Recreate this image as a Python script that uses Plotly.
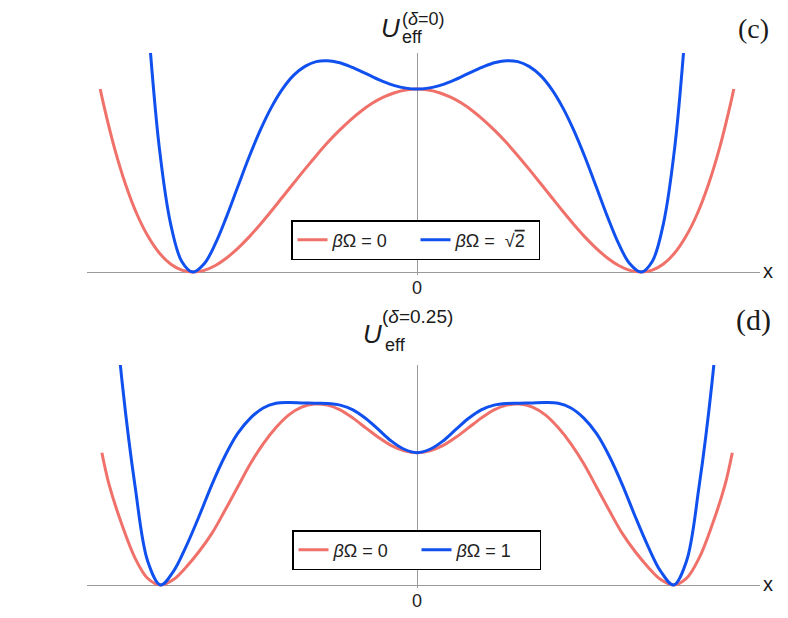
import plotly.graph_objects as go
from plotly.subplots import make_subplots

# -----------------------------
# Data (x in well units, U scaled to barrier height)
# -----------------------------
# panel (c), delta = 0
xc_red = [-1.414, -1.4, -1.35, -1.3, -1.25, -1.2, -1.15, -1.1, -1.05, -1.0, -0.95, -0.9, -0.85, -0.8, -0.75,
          -0.7, -0.65, -0.6, -0.55, -0.5, -0.45, -0.4, -0.35, -0.3, -0.25, -0.2, -0.15, -0.1, -0.05, 0.0,
          0.05, 0.1, 0.15, 0.2, 0.25, 0.3, 0.35, 0.4, 0.45, 0.5, 0.55, 0.6, 0.65, 0.7, 0.75, 0.8, 0.85, 0.9,
          0.95, 1.0, 1.05, 1.1, 1.15, 1.2, 1.25, 1.3, 1.35, 1.4, 1.414]
uc_red = [1.0, 0.922, 0.676, 0.476, 0.316, 0.194, 0.104, 0.044, 0.0105, 0.0, 0.0095, 0.036, 0.077, 0.13, 0.191,
          0.26, 0.3335, 0.41, 0.4865, 0.5625, 0.636, 0.706, 0.77, 0.828, 0.879, 0.922, 0.9555, 0.98, 0.995, 1.0,
          0.995, 0.98, 0.9555, 0.922, 0.879, 0.828, 0.77, 0.706, 0.636, 0.5625, 0.4865, 0.41, 0.3335, 0.26, 0.191,
          0.13, 0.077, 0.036, 0.0095, 0.0, 0.0105, 0.044, 0.104, 0.194, 0.316, 0.476, 0.676, 0.922, 1.0]

xc_blue = [-1.2, -1.15, -1.1, -1.05, -1.0, -0.95, -0.9, -0.85, -0.8, -0.75, -0.7, -0.65, -0.6, -0.55, -0.5,
           -0.45, -0.4, -0.35, -0.3, -0.25, -0.2, -0.15, -0.1, -0.05, 0.0, 0.05, 0.1, 0.15, 0.2, 0.25, 0.3, 0.35,
           0.4, 0.45, 0.5, 0.55, 0.6, 0.65, 0.7, 0.75, 0.8, 0.85, 0.9, 0.95, 1.0, 1.05, 1.1, 1.15, 1.2]
uc_blue = [1.36, 0.677, 0.265, 0.058, 0.0, 0.045, 0.155, 0.303, 0.466, 0.627, 0.774, 0.9, 1.001, 1.076, 1.124,
           1.15, 1.155, 1.145, 1.124, 1.097, 1.068, 1.041, 1.019, 1.005, 1.0, 1.005, 1.019, 1.041, 1.068, 1.097,
           1.124, 1.145, 1.155, 1.15, 1.124, 1.076, 1.001, 0.9, 0.774, 0.627, 0.466, 0.303, 0.155, 0.045, 0.0,
           0.058, 0.265, 0.677, 1.36]

# panel (d), delta = 0.25
xd_red = [-1.229, -1.2, -1.15, -1.1, -1.05, -1.0, -0.95, -0.9, -0.85, -0.8, -0.75, -0.7, -0.65, -0.6, -0.55,
          -0.5, -0.45, -0.4, -0.35, -0.3, -0.25, -0.2, -0.15, -0.1, -0.05, 0.0, 0.05, 0.1, 0.15, 0.2, 0.25, 0.3,
          0.35, 0.4, 0.45, 0.5, 0.55, 0.6, 0.65, 0.7, 0.75, 0.8, 0.85, 0.9, 0.95, 1.0, 1.05, 1.1, 1.15, 1.2, 1.229]
ud_red = [0.731, 0.55, 0.33, 0.15, 0.036, 0.0, 0.03, 0.1, 0.185, 0.285, 0.41, 0.54, 0.67, 0.78, 0.87,
          0.94, 0.983, 1.0, 0.994, 0.968, 0.922, 0.868, 0.815, 0.77, 0.742, 0.731, 0.742, 0.77, 0.815, 0.868, 0.922,
          0.968, 0.994, 1.0, 0.983, 0.94, 0.87, 0.78, 0.67, 0.54, 0.41, 0.285, 0.185, 0.1, 0.03, 0.0, 0.036, 0.15,
          0.33, 0.55, 0.731]

xd_blue = [-1.2, -1.15, -1.1, -1.05, -1.0, -0.95, -0.9, -0.85, -0.8, -0.75, -0.7, -0.65, -0.6, -0.55, -0.5,
           -0.45, -0.4, -0.35, -0.3, -0.25, -0.2, -0.15, -0.1, -0.05, 0.0, 0.05, 0.1, 0.15, 0.2, 0.25, 0.3, 0.35,
           0.4, 0.45, 0.5, 0.55, 0.6, 0.65, 0.7, 0.75, 0.8, 0.85, 0.9, 0.95, 1.0, 1.05, 1.1, 1.15, 1.2]
ud_blue = [1.9, 1.12, 0.55, 0.13, 0.0, 0.075, 0.215, 0.38, 0.555, 0.71, 0.836, 0.922, 0.978, 1.004, 1.008,
           1.006, 1.004, 1.003, 0.994, 0.968, 0.92, 0.858, 0.795, 0.75, 0.731, 0.75, 0.795, 0.858, 0.92, 0.968,
           0.994, 1.003, 1.004, 1.006, 1.008, 1.004, 0.978, 0.922, 0.836, 0.71, 0.555, 0.38, 0.215, 0.075, 0.0,
           0.13, 0.55, 1.12, 1.9]

red = '#F0706A'
blue = '#1050EE'
sans = 'Liberation Sans, Arial, sans-serif'
serif = 'Liberation Serif, Times New Roman, serif'

# page body keeps an 8px margin, so the figure is 8px smaller and positions are shifted by 8
W, H, OFF = 780, 610, 8


def fx(px):
    return (px - OFF) / W


def fy(py):
    return 1 - (py - OFF) / H


fig = make_subplots(rows=2, cols=1)

fig.add_trace(go.Scatter(x=xc_red, y=uc_red, mode='lines', line=dict(color=red, width=3, shape='spline'),
                         name='<i>β</i>Ω = 0', legend='legend'), row=1, col=1)
fig.add_trace(go.Scatter(x=xc_blue, y=uc_blue, mode='lines', line=dict(color=blue, width=3, shape='spline'),
                         name='<i>β</i>Ω =  √<span style="text-decoration:overline">2</span>', legend='legend'), row=1, col=1)
fig.add_trace(go.Scatter(x=xd_red, y=ud_red, mode='lines', line=dict(color=red, width=3, shape='spline'),
                         name='<i>β</i>Ω = 0', legend='legend2'), row=2, col=1)
fig.add_trace(go.Scatter(x=xd_blue, y=ud_blue, mode='lines', line=dict(color=blue, width=3, shape='spline'),
                         name='<i>β</i>Ω = 1', legend='legend2'), row=2, col=1)

axis_common = dict(showgrid=False, zeroline=True, zerolinecolor='#9a9a9a', zerolinewidth=1,
                   showline=False, ticks='')
fig.update_xaxes(axis_common)
fig.update_yaxes(axis_common)
fig.update_yaxes(showticklabels=False)
fig.update_xaxes(tickvals=[0], ticktext=['0'], tickfont=dict(family=sans, size=18, color='#222'))

legend_common = dict(orientation='h', xanchor='left', yanchor='top',
                     bordercolor='black', borderwidth=1.5, bgcolor='white',
                     font=dict(family=sans, size=18, color='#222'),
                     entrywidth=78, entrywidthmode='pixels')

fig.update_layout(
    width=W, height=H,
    margin=dict(l=0, r=0, t=0, b=0),
    paper_bgcolor='white', plot_bgcolor='white',
    xaxis=dict(domain=[fx(87), fx(760)], range=[-1.473, 1.531]),
    yaxis=dict(domain=[fy(275), fy(53)], range=[-0.016, 1.197]),
    xaxis2=dict(domain=[fx(87), fx(760)], range=[-1.287, 1.337]),
    yaxis2=dict(domain=[fy(588), fy(365)], range=[-0.0166, 1.2155]),
    legend=dict(legend_common, x=fx(291), y=fy(220)),
    legend2=dict(legend_common, x=fx(292), y=fy(530)),
)

# axis labels, titles and panel tags: (x px, y px, text, font, size, anchor)
notes = [
    (390, 28, '<i>U</i>', sans, 26, 'center'),
    (400, 28, '<span style="font-size:18px">(<i>δ</i>=0)</span><br><span style="font-size:18px">eff</span>',
     sans, 14, 'left'),
    (768, 271, 'x', sans, 20, 'center'),
    (753, 28, '(c)', serif, 28, 'center'),
    (372, 334, '<i>U</i>', sans, 26, 'center'),
    (383, 345, 'eff', sans, 18, 'left'),
    (380, 316, '(<i>δ</i>=0.25)', sans, 19, 'left'),
    (768, 584, 'x', sans, 20, 'center'),
    (753, 320, '(d)', serif, 30, 'center'),
]
for px, py, txt, fam, sz, anc in notes:
    fig.add_annotation(x=fx(px), y=fy(py), xref='paper', yref='paper', text=txt, showarrow=False,
                       xanchor=anc, yanchor='middle', align='left',
                       font=dict(family=fam, size=sz, color='#1a1a1a'))

fig.write_html('out.html')
